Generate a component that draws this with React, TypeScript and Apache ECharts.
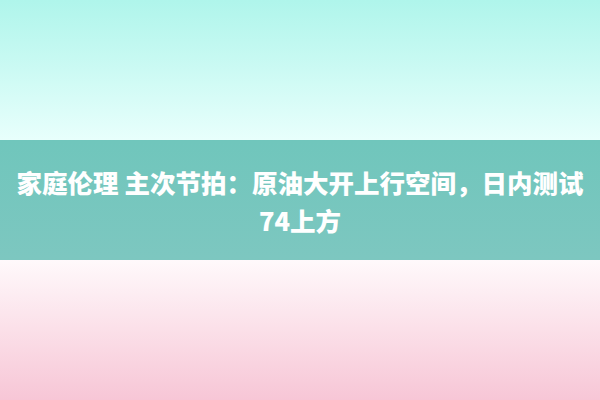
import React, { useEffect, useRef } from 'react';
import * as echarts from 'echarts';

// title lines shown in the band
const titleLines = ['家庭伦理 主次节拍：原油大开上行空间，日内测试', '74上方'];

// background bands: [top, bottom] colour stops
const topColors = ['#aff5eb', '#e8fffc'];
const bandColors = ['#70c6bc', '#7dc7c0'];
const bottomColors = ['#fff9fb', '#f7c6d6'];

const grad = (c: string[]) =>
  new echarts.graphic.LinearGradient(0, 0, 0, 1, [
    { offset: 0, color: c[0] },
    { offset: 1, color: c[1] },
  ]);

export default function App() {
  const ref = useRef<HTMLDivElement>(null);

  useEffect(() => {
    if (!ref.current) return;
    const chart = echarts.init(ref.current, null, { renderer: 'svg' });
    chart.setOption({
      animation: false,
      graphic: [
        { type: 'rect', shape: { x: 0, y: 0, width: 600, height: 140 }, style: { fill: grad(topColors) } },
        { type: 'rect', shape: { x: 0, y: 140, width: 600, height: 120 }, style: { fill: grad(bandColors) } },
        { type: 'rect', shape: { x: 0, y: 260, width: 600, height: 140 }, style: { fill: grad(bottomColors) } },
        ...titleLines.map((t, i) => ({
          type: 'text',
          x: 300,
          y: 181 + i * 38,
          style: {
            text: t,
            fill: '#ffffff',
            font: '900 25.5px "Noto Sans CJK SC"',
            align: 'center',
            verticalAlign: 'middle',
          },
        })),
      ],
    });
    return () => chart.dispose();
  }, []);

  return <div ref={ref} style={{ position: 'absolute', left: 0, top: 0, width: 600, height: 400 }} />;
}
